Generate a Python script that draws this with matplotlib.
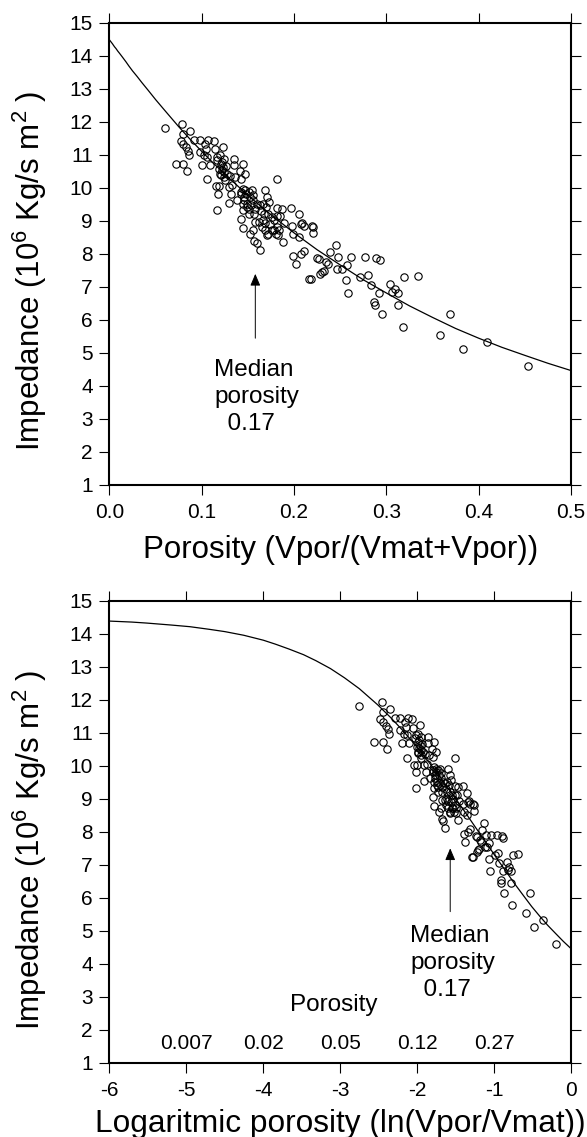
import numpy as np
import matplotlib
matplotlib.use('Agg')
import matplotlib.pyplot as plt

plt.rcParams['font.family'] = ['Liberation Sans', 'DejaVu Sans']
plt.rcParams['mathtext.fontset'] = 'custom'
plt.rcParams['mathtext.rm'] = 'Liberation Sans'
plt.rcParams['mathtext.it'] = 'Liberation Sans:italic'
plt.rcParams['mathtext.bf'] = 'Liberation Sans:bold'
plt.rcParams['mathtext.default'] = 'regular'
plt.rcParams['axes.unicode_minus'] = False

# ---------------- data ----------------
porosity = [
    0.060, 0.079, 0.087, 0.080, 0.077, 0.080, 0.083, 0.085, 0.086, 0.072, 0.080, 0.084,
    0.092, 0.098, 0.103, 0.107, 0.113, 0.105, 0.114, 0.123, 0.098, 0.102, 0.106, 0.100,
    0.109, 0.116, 0.117, 0.120, 0.122, 0.124, 0.135, 0.145, 0.135, 0.141,
    0.106, 0.115, 0.119, 0.118, 0.117, 0.127, 0.131, 0.136, 0.143, 0.147,
    0.122, 0.124, 0.129, 0.133, 0.129, 0.132, 0.142, 0.138, 0.145, 0.147,
    0.151, 0.154, 0.146, 0.149, 0.145, 0.151, 0.156, 0.158, 0.160, 0.163,
    0.166, 0.169, 0.171, 0.173, 0.170, 0.181, 0.164, 0.167, 0.172, 0.176,
    0.181, 0.187, 0.181, 0.185, 0.178, 0.189, 0.197, 0.205,
    0.142, 0.145, 0.152, 0.155, 0.158, 0.162, 0.166, 0.168, 0.157, 0.160,
    0.163, 0.171, 0.172, 0.178, 0.181, 0.184, 0.183, 0.188, 0.198, 0.199,
    0.205, 0.207, 0.209, 0.211, 0.219, 0.221, 0.220,
    0.199, 0.202, 0.207, 0.211, 0.225, 0.227, 0.235, 0.237, 0.239, 0.245,
    0.248, 0.246, 0.252, 0.257, 0.262, 0.256, 0.258, 0.228, 0.230, 0.232,
    0.216, 0.218,
    0.271, 0.277, 0.280, 0.283, 0.289, 0.293, 0.292, 0.287, 0.288, 0.295,
    0.304, 0.306, 0.309, 0.313, 0.313, 0.319, 0.334, 0.318, 0.358, 0.369,
    0.383, 0.409, 0.453,
    0.121, 0.123, 0.119, 0.124, 0.121, 0.125, 0.126, 0.120, 0.143, 0.146,
    0.148, 0.152, 0.153, 0.149, 0.155, 0.151, 0.145, 0.157, 0.165, 0.169,
    0.174, 0.176, 0.180,
]
impedance = [
    11.82, 11.94, 11.72, 11.62, 11.42, 11.34, 11.22, 11.12, 10.98, 10.73, 10.71, 10.51,
    11.44, 11.44, 11.34, 11.44, 11.42, 11.17, 11.16, 11.23, 11.09, 10.98, 10.93, 10.68,
    10.68, 10.83, 10.93, 10.98, 10.78, 10.88, 10.88, 10.73, 10.68, 10.51,
    10.25, 10.04, 10.04, 9.82, 9.32, 10.43, 10.35, 10.33, 10.27, 10.43,
    10.53, 10.33, 10.02, 10.07, 9.54, 9.82, 9.82, 9.62, 9.97, 9.92,
    9.87, 9.92, 9.72, 9.52, 9.32, 9.37, 9.62, 9.37, 9.52, 9.47,
    9.52, 9.92, 9.72, 9.57, 9.42, 10.25, 9.29, 9.21, 9.21, 9.11,
    9.40, 9.37, 9.13, 9.13, 9.01, 8.93, 9.40, 9.19,
    9.05, 8.77, 8.61, 8.71, 8.96, 8.96, 9.01, 8.73, 8.40, 8.32,
    8.12, 8.56, 8.61, 8.73, 8.81, 8.71, 8.56, 8.35, 8.83, 8.59,
    8.51, 8.89, 8.93, 8.83, 8.83, 8.81, 8.63,
    7.92, 7.68, 8.00, 8.08, 7.87, 7.85, 7.74, 7.70, 8.06, 8.26,
    7.90, 7.54, 7.54, 7.67, 7.90, 7.19, 6.82, 7.39, 7.44, 7.47,
    7.24, 7.24,
    7.29, 7.90, 7.37, 7.04, 7.87, 7.81, 6.82, 6.55, 6.45, 6.16,
    7.09, 6.84, 6.94, 6.82, 6.44, 7.29, 7.33, 5.78, 5.55, 6.16,
    5.12, 5.32, 4.61,
    10.73, 10.63, 10.58, 10.48, 10.38, 10.23, 10.65, 10.43, 9.87, 9.62,
    9.82, 9.72, 9.47, 9.42, 9.77, 9.21, 9.52, 9.21, 8.81, 8.93,
    8.89, 8.71, 8.61,
]

# model curve
curve_phi = [0.0, 0.00247, 0.0033, 0.004, 0.0055, 0.007, 0.009, 0.011, 0.014,
             0.018, 0.021, 0.025, 0.03, 0.035, 0.042, 0.05, 0.06, 0.075, 0.087,
             0.1, 0.112, 0.125, 0.15, 0.175, 0.2, 0.225, 0.25, 0.275, 0.3,
             0.325, 0.35, 0.375, 0.4, 0.425, 0.45, 0.475, 0.5]
curve_imp = [14.48, 14.39, 14.36, 14.33, 14.27, 14.22, 14.14, 14.07, 13.96,
             13.81, 13.69, 13.54, 13.37, 13.19, 12.95, 12.67, 12.34, 11.85, 11.48,
             11.10, 10.76, 10.41, 9.77, 9.18, 8.63, 8.12, 7.66, 7.21, 6.81,
             6.42, 6.07, 5.735, 5.44, 5.165, 4.92, 4.68, 4.46]

median_arrow_top_x = 0.158
median_arrow_bot_x = -1.57
ref_logpor = [-5, -4, -3, -2, -1]
ref_por_labels = ['0.007', '0.02', '0.05', '0.12', '0.27']

yticks = list(range(1, 16))
xticks_top = [0.0, 0.1, 0.2, 0.3, 0.4, 0.5]
xticklabels_top = ['0.0', '0.1', '0.2', '0.3', '0.4', '0.5']
xticks_bot = [-6, -5, -4, -3, -2, -1, 0]

ylabel = 'Impedance (10$^{6}$ Kg/s m$^{2}$ )'
xlabel_top = 'Porosity (Vpor/(Vmat+Vpor))'
xlabel_bot = 'Logaritmic porosity (ln(Vpor/Vmat))'

# ---------------- figure ----------------
fig = plt.figure(figsize=(5.87, 11.37), dpi=100)
ax1 = fig.add_axes([0.1865, 0.5737, 0.7862, 0.4063])
ax2 = fig.add_axes([0.1865, 0.06535, 0.7862, 0.4061])


def style(ax):
    for s in ax.spines.values():
        s.set_linewidth(1.5)
    ax.tick_params(which='major', direction='out', length=7, width=0.8,
                   top=True, right=True, labeltop=False, labelright=False,
                   labelsize=15)
    ax.tick_params(axis='x', pad=6)
    ax.tick_params(axis='y', pad=5)
    ax.set_ylim(1, 15)
    ax.set_yticks(yticks)


arrow_props = dict(arrowstyle='-|>,head_length=0.4,head_width=0.17',
                   mutation_scale=18, lw=0.7, color='black',
                   shrinkA=0, shrinkB=0)

# top panel
phi = np.array(porosity)
imp = np.array(impedance)
cphi = np.array(curve_phi)
cimp = np.array(curve_imp)

ax1.plot(cphi, cimp, color='black', lw=0.9)
ax1.plot(phi, imp, ls='none', marker='o', ms=5.3, mfc='none', mec='black', mew=0.8)
style(ax1)
ax1.set_xlim(0, 0.5)
ax1.set_xticks(xticks_top)
ax1.set_xticklabels(xticklabels_top)
ax1.annotate('', xy=(median_arrow_top_x, 7.39), xytext=(median_arrow_top_x, 5.44),
             arrowprops=arrow_props)
ax1.text(0.1132, 4.81, 'Median\nporosity\n  0.17', fontsize=17.5,
         ha='left', va='top', linespacing=1.3)
ax1.text(-0.1506, 0.4636, ylabel, transform=ax1.transAxes, rotation=90,
         rotation_mode='anchor', ha='center', va='baseline', fontsize=22.5)
ax1.text(0.5, -0.159, xlabel_top, transform=ax1.transAxes, ha='center',
         va='baseline', fontsize=22.5)

# bottom panel
pos = cphi > 0
lc = np.log(cphi[pos] / (1 - cphi[pos]))
lp = np.log(phi / (1 - phi))
ax2.plot(lc, cimp[pos], color='black', lw=0.9)
ax2.plot(lp, imp, ls='none', marker='o', ms=5.3, mfc='none', mec='black', mew=0.8)
style(ax2)
ax2.set_xlim(-6, 0)
ax2.set_xticks(xticks_bot)
ax2.annotate('', xy=(median_arrow_bot_x, 7.5), xytext=(median_arrow_bot_x, 5.58),
             arrowprops=arrow_props)
ax2.text(-2.093, 5.18, 'Median\nporosity\n  0.17', fontsize=17.5,
         ha='left', va='top', linespacing=1.3)
ax2.text(-3.08, 2.555, 'Porosity', fontsize=17.5, ha='center', va='baseline')
for xv, lab in zip(ref_logpor, ref_por_labels):
    ax2.text(xv, 1.415, lab, fontsize=15, ha='center', va='baseline')
ax2.text(-0.1506, 0.4607, ylabel, transform=ax2.transAxes, rotation=90,
         rotation_mode='anchor', ha='center', va='baseline', fontsize=22.5)
ax2.text(0.5, -0.1494, xlabel_bot, transform=ax2.transAxes, ha='center',
         va='baseline', fontsize=22.8)

fig.savefig('out.png', dpi=100)
